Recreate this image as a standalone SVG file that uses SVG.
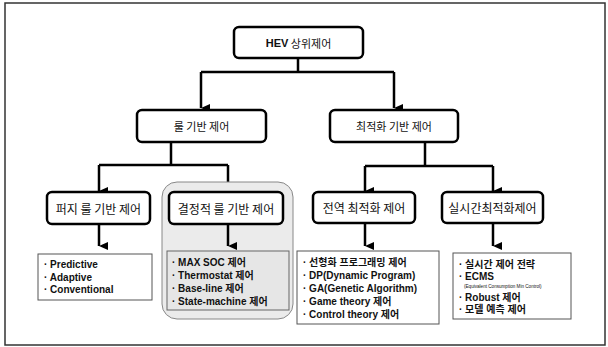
<svg xmlns="http://www.w3.org/2000/svg" width="608" height="347" viewBox="0 0 608 347">
<defs>
<marker id="ah" viewBox="0 0 8 9" refX="4" refY="9" markerWidth="8" markerHeight="9" markerUnits="userSpaceOnUse" orient="auto-start-reverse">
<path d="M0,0 L8,0 L4,9 Z" fill="#000"/>
</marker>
<style>
.frame{fill:#fff;stroke:#333;stroke-width:1.5}
.box{fill:#fff;stroke:#000;stroke-width:2.5}
.lst{fill:#fff;stroke:#555;stroke-width:1}
.conn{fill:none;stroke:#000;stroke-width:2.5}
.t1{font-family:"Noto Sans CJK KR","Liberation Sans",sans-serif;font-size:11px;fill:#111;text-anchor:middle;dominant-baseline:central}
.t2{font-family:"Noto Sans CJK KR","Liberation Sans",sans-serif;font-size:12px;fill:#111;text-anchor:middle;dominant-baseline:central}
.li{font-family:"Liberation Sans","Noto Sans CJK KR",sans-serif;font-size:10px;font-weight:bold;fill:#111;dominant-baseline:central}
.sm{font-family:"Liberation Sans",sans-serif;font-size:4.6px;fill:#111;dominant-baseline:central}
</style>
</defs>
<rect class="frame" x="5" y="3" width="600" height="342"/>

<g id="connectors">
<path class="conn" d="M298,58 V72 M201,72 H394"/>
<path class="conn" d="M201,72 V108" marker-end="url(#ah)"/>
<path class="conn" d="M394,72 V108" marker-end="url(#ah)"/>
<path class="conn" d="M171,142 V165 M99,165 H228"/>
<path class="conn" d="M99,165 V191" marker-end="url(#ah)"/>
<path class="conn" d="M228,165 V191" marker-end="url(#ah)"/>
<path class="conn" d="M425,142 V166 M365,166 H493"/>
<path class="conn" d="M365,166 V191" marker-end="url(#ah)"/>
<path class="conn" d="M493,166 V191" marker-end="url(#ah)"/>
</g>

<g id="hev">
<rect class="box" x="234" y="27" width="129" height="31" rx="5"/>
<text class="t1" x="298.5" y="42.5"><tspan font-weight="bold" font-family="Liberation Sans,sans-serif">HEV</tspan> 상위제어</text>
</g>

<g id="rule">
<rect class="box" x="137" y="110" width="129" height="32" rx="5"/>
<text class="t1" x="201.5" y="126">룰 기반 제어</text>
</g>

<g id="opt">
<rect class="box" x="330" y="110" width="128" height="32" rx="5"/>
<text class="t1" x="394" y="126">최적화 기반 제어</text>
</g>

<g id="fuzzy">
<rect class="box" x="47" y="192" width="103" height="32" rx="5"/>
<text class="t2" x="98.5" y="208">퍼지 룰 기반 제어</text>
<path class="conn" d="M99,224 V246" marker-end="url(#ah)"/>
<rect class="lst" x="38" y="254" width="114" height="46"/>
<text class="li" x="44" y="264">· Predictive</text>
<text class="li" x="44" y="277">· Adaptive</text>
<text class="li" x="44" y="289">· Conventional</text>
</g>

<g id="deterministic">
<rect x="162" y="182" width="131" height="137" rx="15" fill="#ebebeb" stroke="#888" stroke-width="1"/>
<rect class="box" x="169" y="192" width="114" height="32" rx="5"/>
<text class="t2" x="226" y="208">결정적 룰 기반 제어</text>
<path class="conn" d="M228,224 V246" marker-end="url(#ah)"/>
<rect x="167" y="251" width="122" height="59" fill="#e6e6e6" stroke="#666" stroke-width="1"/>
<text class="li" x="172" y="262">· MAX SOC 제어</text>
<text class="li" x="172" y="275">· Thermostat 제어</text>
<text class="li" x="172" y="288">· Base-line 제어</text>
<text class="li" x="172" y="301">· State-machine 제어</text>
</g>

<g id="global">
<rect class="box" x="313" y="192" width="102" height="31" rx="5"/>
<text class="t2" x="364" y="207.5">전역 최적화 제어</text>
<path class="conn" d="M365,223 V246" marker-end="url(#ah)"/>
<rect class="lst" x="297" y="251" width="142" height="73"/>
<text class="li" x="303" y="262">· 선형화 프로그래밍 제어</text>
<text class="li" x="303" y="275">· DP(Dynamic Program)</text>
<text class="li" x="303" y="288">· GA(Genetic Algorithm)</text>
<text class="li" x="303" y="301">· Game theory 제어</text>
<text class="li" x="303" y="314">· Control theory 제어</text>
</g>

<g id="realtime">
<rect class="box" x="442" y="192" width="101" height="31" rx="5"/>
<text class="t2" x="492.5" y="207.5">실시간최적화제어</text>
<path class="conn" d="M493,223 V246" marker-end="url(#ah)"/>
<rect class="lst" x="453" y="253" width="118" height="66"/>
<text class="li" x="459" y="264">· 실시간 제어 전략</text>
<text class="li" x="459" y="276">· ECMS</text>
<text class="sm" x="464" y="286.5">(Equivalent Consumption Min Control)</text>
<text class="li" x="459" y="297">· Robust 제어</text>
<text class="li" x="459" y="309">· 모델 예측 제어</text>
</g>
</svg>
